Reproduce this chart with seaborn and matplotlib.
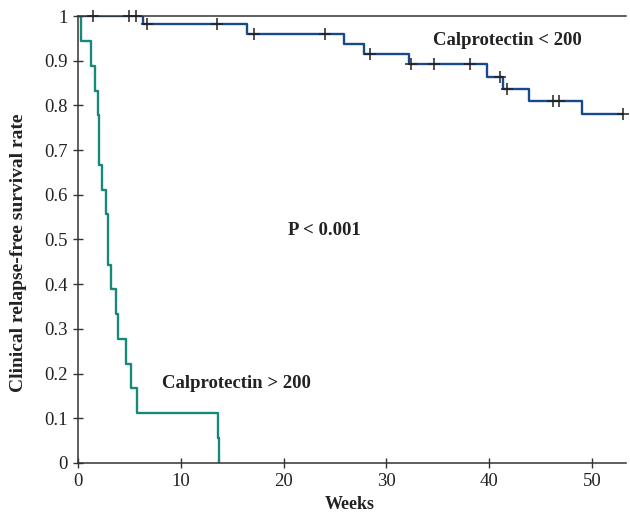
import matplotlib
matplotlib.use("Agg")
import matplotlib.pyplot as plt
import seaborn as sns

# ---------------------------------------------------------
# Daten
# ---------------------------------------------------------

# Calprotectin < 200: Zeitpunkte der Stufen und Überlebensrate
low_t = [0, 6.3, 16.4, 25.9, 27.8, 32.2, 39.8, 41.3, 43.9, 49.0, 53.0]
low_s = [1.0, 0.981, 0.960, 0.937, 0.914, 0.892, 0.864, 0.836, 0.810, 0.780, 0.780]
low_cens_t = [1.45, 5.0, 5.6, 6.7, 13.5, 17.1, 24.0, 28.4, 32.4, 34.6, 38.1, 41.0, 41.7, 46.2, 46.8, 53.0]
low_cens_s = [1.0, 1.0, 1.0, 0.981, 0.981, 0.960, 0.960, 0.914, 0.892, 0.892, 0.892, 0.864, 0.836, 0.810, 0.810, 0.780]

# Calprotectin > 200
high_t = [0, 0.25, 1.25, 1.65, 1.9, 2.05, 2.35, 2.75, 2.9, 3.2, 3.65, 3.85, 4.65, 5.15, 5.75, 13.6, 13.75]
high_s = [1.0, 0.944, 0.889, 0.833, 0.778, 0.667, 0.611, 0.556, 0.444, 0.389, 0.333, 0.278, 0.222, 0.167, 0.111, 0.056, 0.0]

y_ticks = [0, 0.1, 0.2, 0.3, 0.4, 0.5, 0.6, 0.7, 0.8, 0.9, 1]
y_labels = ["0", "0.1", "0.2", "0.3", "0.4", "0.5", "0.6", "0.7", "0.8", "0.9", "1"]
x_ticks = [0, 10, 20, 30, 40, 50]

blue = "#174a8b"
teal = "#17897a"

# ---------------------------------------------------------
# Plot
# ---------------------------------------------------------

sns.set_style("ticks")
plt.rcParams["font.family"] = ["Liberation Serif", "DejaVu Serif"]

fig = plt.figure(figsize=(6.3, 5.13), dpi=100)
ax = fig.add_axes([0.1238, 0.0975, 0.870, 0.8713])

sns.lineplot(x=high_t, y=high_s, drawstyle="steps-post", color=teal,
             linewidth=1.7, ax=ax, estimator=None, sort=False)
sns.lineplot(x=low_t, y=low_s, drawstyle="steps-post", color=blue,
             linewidth=1.7, ax=ax, estimator=None, sort=False)
ax.plot(low_cens_t, low_cens_s, linestyle="none", marker="+", color="#222222",
        markersize=8, markeredgewidth=1.1, zorder=4, clip_on=False)

ax.set_xlim(0, 53.3)
ax.set_ylim(0, 1)
ax.set_xticks(x_ticks)
ax.set_yticks(y_ticks)
ax.set_yticklabels(y_labels)
ax.tick_params(direction="inout", length=6.5, width=1.0, color="#333333",
               labelsize=13.5, labelcolor="#222222", pad=4)

for side in ["left", "bottom", "top"]:
    ax.spines[side].set_color("#333333")
    ax.spines[side].set_linewidth(1.1)
    ax.spines[side].set_zorder(3)
ax.spines["right"].set_visible(False)

ax.set_xlabel("Weeks", fontsize=13, fontweight="bold", color="#222222")
ax.xaxis.set_label_coords(0.496, -0.074)
ax.set_ylabel("Clinical relapse-free survival rate", fontsize=14,
              fontweight="bold", color="#222222")
ax.yaxis.set_label_coords(-0.093, 0.47)

ax.text(41.8, 0.946, "Calprotectin < 200", fontsize=13.5, fontweight="bold",
        color="#222222", ha="center", va="center")
ax.text(24.0, 0.521, "P < 0.001", fontsize=13.5, fontweight="bold",
        color="#222222", ha="center", va="center")
ax.text(15.4, 0.177, "Calprotectin > 200", fontsize=13.5, fontweight="bold",
        color="#222222", ha="center", va="center")

fig.savefig("out.png", dpi=100)
